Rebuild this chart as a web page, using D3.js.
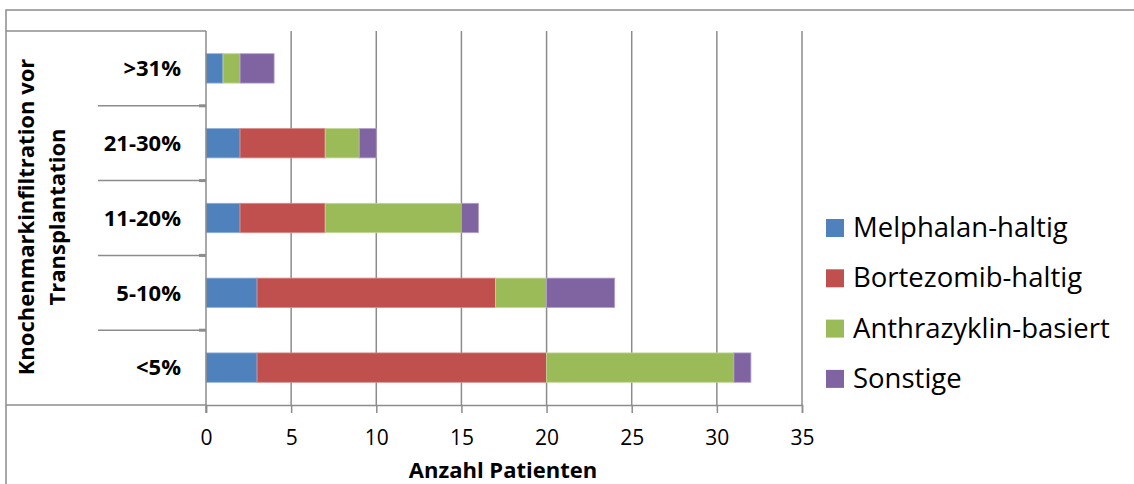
<!DOCTYPE html>
<html>
<head>
<meta charset="utf-8">
<script src="https://cdn.jsdelivr.net/npm/d3@7"></script>
<style>
  html, body { margin: 0; padding: 0; background: #fff; }
  svg { display: block; font-family: "Open Sans", Lato, sans-serif; }
</style>
</head>
<body>
<svg id="chart" width="1134" height="484"></svg>
<script>
// Knochenmarkinfiltration groups, top to bottom
const categories = [">31%", "21-30%", "11-20%", "5-10%", "<5%"];
const seriesNames = ["Melphalan-haltig", "Bortezomib-haltig", "Anthrazyklin-basiert", "Sonstige"];
const seriesColors = ["#4F81BD", "#C0504D", "#9BBB59", "#8064A2"];
const seriesStroke = ["#8fb0d9", "#d98b89", "#c2d79a", "#b3a0cc"];
const melphalan    = [1, 2, 2, 3, 3];
const bortezomib   = [0, 5, 5, 14, 17];
const anthrazyklin = [1, 2, 8, 3, 11];
const sonstige     = [2, 1, 1, 4, 1];
const xTicks = [0, 5, 10, 15, 20, 25, 30, 35];

const svg = d3.select("#chart");
const gridColor = "#8c8c8c";

const plot = { left: 206, right: 802, top: 31, bottom: 405 };

const x = d3.scaleLinear().domain([0, 35]).range([plot.left, plot.right]);
const y = d3.scaleBand().domain(categories).range([plot.top, plot.bottom])
  .paddingInner(0.607).paddingOuter(0.3035);

const rows = categories.map((c, i) => ({
  cat: c,
  "Melphalan-haltig": melphalan[i],
  "Bortezomib-haltig": bortezomib[i],
  "Anthrazyklin-basiert": anthrazyklin[i],
  "Sonstige": sonstige[i]
}));
const stacked = d3.stack().keys(seriesNames)(rows);

// outer chart frame
svg.append("path")
  .attr("d", "M6,484 V10 H1134")
  .attr("fill", "none").attr("stroke", gridColor).attr("stroke-width", 1.5);

// category table lines
svg.append("line").attr("x1", 6).attr("x2", plot.left).attr("y1", plot.top).attr("y2", plot.top)
  .attr("stroke", gridColor).attr("stroke-width", 1.5);
svg.append("line").attr("x1", 6).attr("x2", plot.left).attr("y1", plot.bottom).attr("y2", plot.bottom)
  .attr("stroke", gridColor).attr("stroke-width", 1.5);
const step = y.step();
const bandEdges = d3.range(1, categories.length).map(i => plot.top + i * step);
svg.append("g").selectAll("line").data(bandEdges).join("line")
  .attr("x1", 98).attr("x2", plot.left).attr("y1", d => d).attr("y2", d => d)
  .attr("stroke", gridColor).attr("stroke-width", 1.5);

// vertical gridlines
svg.append("g").selectAll("line").data(xTicks.slice(1)).join("line")
  .attr("x1", d => x(d)).attr("x2", d => x(d))
  .attr("y1", plot.top).attr("y2", plot.bottom)
  .attr("stroke", gridColor).attr("stroke-width", 1.5);

// stacked bars
svg.append("g").selectAll("g").data(stacked).join("g")
  .attr("fill", (d, i) => seriesColors[i])
  .attr("stroke", (d, i) => seriesStroke[i])
  .selectAll("rect").data(d => d.filter(s => s[1] > s[0])).join("rect")
  .attr("x", d => x(d[0]))
  .attr("width", d => x(d[1]) - x(d[0]))
  .attr("y", d => y(d.data.cat))
  .attr("height", y.bandwidth())
  .attr("stroke-width", 0.8);

// x axis
const xAxis = svg.append("g").attr("transform", `translate(0,${plot.bottom})`)
  .call(d3.axisBottom(x).tickValues(xTicks).tickSize(8).tickPadding(0));
xAxis.select(".domain").attr("stroke", gridColor).attr("stroke-width", 1.5);
xAxis.selectAll(".tick line").attr("stroke", gridColor).attr("stroke-width", 1.5);
xAxis.selectAll(".tick text").attr("font-size", 21).attr("fill", "#000")
  .attr("font-family", "'Open Sans', sans-serif")
  .attr("y", 40).attr("dy", null);

// y axis line with ticks at band edges
svg.append("line").attr("x1", plot.left).attr("x2", plot.left)
  .attr("y1", plot.top).attr("y2", plot.bottom + 8)
  .attr("stroke", gridColor).attr("stroke-width", 1.5);
svg.append("g").selectAll("line").data(bandEdges).join("line")
  .attr("x1", plot.left - 7).attr("x2", plot.left).attr("y1", d => d).attr("y2", d => d)
  .attr("stroke", gridColor).attr("stroke-width", 3);

// category labels
svg.append("g").selectAll("text").data(categories).join("text")
  .attr("x", 181)
  .attr("y", d => y(d) + y.bandwidth() / 2 + 7.8)
  .attr("text-anchor", "end")
  .attr("font-size", 22).attr("font-weight", "bold")
  .text(d => d);

// axis titles
svg.append("text").attr("x", x(17.5) - 1).attr("y", 478)
  .attr("text-anchor", "middle").attr("font-size", 22).attr("font-weight", "bold")
  .text("Anzahl Patienten");
const yTitle = svg.append("text")
  .attr("transform", "translate(0,217) rotate(-90)")
  .attr("text-anchor", "middle").attr("font-size", 22).attr("font-weight", "bold");
yTitle.append("tspan").attr("x", 0).attr("y", 34).text("Knochenmarkinfiltration vor");
yTitle.append("tspan").attr("x", 0).attr("y", 65).text("Transplantation");

// legend
const legend = svg.append("g").selectAll("g").data(seriesNames).join("g")
  .attr("transform", (d, i) => `translate(826,${219 + i * 50.3})`);
legend.append("rect").attr("x", 0).attr("y", 0).attr("width", 18).attr("height", 18)
  .attr("fill", (d, i) => seriesColors[i]);
legend.append("text").attr("x", 27).attr("y", 18)
  .attr("font-size", 27.5).text(d => d);
</script>
</body>
</html>
